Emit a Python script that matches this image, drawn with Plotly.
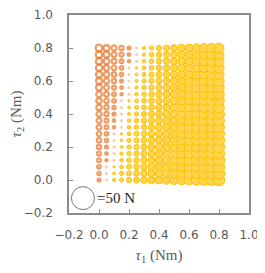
import plotly.graph_objects as go

# grid of joint torques
tau1 = [0.00, 0.05, 0.10, 0.15, 0.20, 0.25, 0.30, 0.35, 0.40, 0.45, 0.50, 0.55, 0.60, 0.65, 0.70, 0.75, 0.80]
tau2 = [0.00, 0.04, 0.08, 0.12, 0.16, 0.20, 0.24, 0.28, 0.32, 0.36, 0.40,
        0.44, 0.48, 0.52, 0.56, 0.60, 0.64, 0.68, 0.72, 0.76, 0.80]

# estimated force (N) for each tau2 row (columns follow tau1); negative = orange rings
force = [
    [-0.8, 0.0, 0.8, 1.7, 2.5, 3.3, 4.2, 5.0, 5.8, 6.7, 7.5, 8.3, 9.2, 10.0, 10.9, 11.7, 12.5],
    [-1.0, -0.2, 0.7, 1.5, 2.3, 3.2, 4.0, 4.8, 5.7, 6.5, 7.3, 8.2, 9.0, 9.9, 10.7, 11.5, 12.4],
    [-1.2, -0.3, 0.5, 1.3, 2.2, 3.0, 3.8, 4.7, 5.5, 6.3, 7.2, 8.0, 8.8, 9.7, 10.5, 11.4, 12.2],
    [-1.3, -0.5, 0.3, 1.2, 2.0, 2.8, 3.7, 4.5, 5.3, 6.2, 7.0, 7.8, 8.7, 9.5, 10.4, 11.2, 12.0],
    [-1.5, -0.7, 0.2, 1.0, 1.8, 2.7, 3.5, 4.3, 5.2, 6.0, 6.8, 7.7, 8.5, 9.3, 10.2, 11.0, 11.9],
    [-1.7, -0.8, 0.0, 0.8, 1.7, 2.5, 3.3, 4.2, 5.0, 5.8, 6.7, 7.5, 8.3, 9.2, 10.0, 10.9, 11.7],
    [-1.8, -1.0, -0.2, 0.7, 1.5, 2.3, 3.2, 4.0, 4.8, 5.7, 6.5, 7.3, 8.2, 9.0, 9.9, 10.7, 11.5],
    [-2.0, -1.2, -0.3, 0.5, 1.3, 2.2, 3.0, 3.8, 4.7, 5.5, 6.3, 7.2, 8.0, 8.8, 9.7, 10.5, 11.4],
    [-2.2, -1.3, -0.5, 0.3, 1.2, 2.0, 2.8, 3.7, 4.5, 5.3, 6.2, 7.0, 7.8, 8.7, 9.5, 10.4, 11.2],
    [-2.3, -1.5, -0.7, 0.2, 1.0, 1.8, 2.7, 3.5, 4.3, 5.2, 6.0, 6.8, 7.7, 8.5, 9.3, 10.2, 11.0],
    [-2.5, -1.7, -0.8, 0.0, 0.8, 1.7, 2.5, 3.3, 4.2, 5.0, 5.8, 6.7, 7.5, 8.3, 9.2, 10.0, 10.9],
    [-2.7, -1.8, -1.0, -0.2, 0.7, 1.5, 2.3, 3.2, 4.0, 4.8, 5.7, 6.5, 7.3, 8.2, 9.0, 9.9, 10.7],
    [-2.8, -2.0, -1.2, -0.3, 0.5, 1.3, 2.2, 3.0, 3.8, 4.7, 5.5, 6.3, 7.2, 8.0, 8.8, 9.7, 10.5],
    [-3.0, -2.2, -1.3, -0.5, 0.3, 1.2, 2.0, 2.8, 3.7, 4.5, 5.3, 6.2, 7.0, 7.8, 8.7, 9.5, 10.4],
    [-3.2, -2.3, -1.5, -0.7, 0.2, 1.0, 1.8, 2.7, 3.5, 4.3, 5.2, 6.0, 6.8, 7.7, 8.5, 9.3, 10.2],
    [-3.3, -2.5, -1.7, -0.8, 0.0, 0.8, 1.7, 2.5, 3.3, 4.2, 5.0, 5.8, 6.7, 7.5, 8.3, 9.2, 10.0],
    [-3.5, -2.7, -1.8, -1.0, -0.2, 0.7, 1.5, 2.3, 3.2, 4.0, 4.8, 5.7, 6.5, 7.3, 8.2, 9.0, 9.9],
    [-3.7, -2.8, -2.0, -1.2, -0.3, 0.5, 1.3, 2.2, 3.0, 3.8, 4.7, 5.5, 6.3, 7.2, 8.0, 8.8, 9.7],
    [-3.8, -3.0, -2.2, -1.3, -0.5, 0.3, 1.2, 2.0, 2.8, 3.7, 4.5, 5.3, 6.2, 7.0, 7.8, 8.7, 9.5],
    [-4.0, -3.2, -2.3, -1.5, -0.7, 0.2, 1.0, 1.8, 2.7, 3.5, 4.3, 5.2, 6.0, 6.8, 7.7, 8.5, 9.3],
    [-4.2, -3.3, -2.5, -1.7, -0.8, 0.0, 0.8, 1.7, 2.5, 3.3, 4.2, 5.0, 5.8, 6.7, 7.5, 8.3, 9.2],
]

ref_force = 50          # reference bubble (N)
ref_label = "=50 N"
ref_pos = (-0.107, -0.11)
ref_label_x = -0.03

x_ticks = [-0.2, 0.0, 0.2, 0.4, 0.6, 0.8, 1.0]
y_ticks = [-0.2, 0.0, 0.2, 0.4, 0.6, 0.8, 1.0]

ZERO_BAND = 0.35
SIZEREF = 2 * ref_force / 23.0 ** 2   # 50 N -> ~23 px diameter

neg_x, neg_y, neg_s = [], [], []
pos_x, pos_y, pos_s = [], [], []
pal_x, pal_y = [], []
for i, t2 in enumerate(tau2):
    for j, t1 in enumerate(tau1):
        f = force[i][j]
        if abs(f) <= ZERO_BAND:
            pal_x.append(t1); pal_y.append(t2)
        elif f < 0:
            neg_x.append(t1); neg_y.append(t2); neg_s.append(-f)
        else:
            pos_x.append(t1); pos_y.append(t2); pos_s.append(f)

fig = go.Figure()
fig.add_trace(go.Scatter(
    x=pos_x, y=pos_y, mode="markers",
    marker=dict(size=pos_s, sizemode="area", sizeref=SIZEREF,
                color="#FFD54F", line=dict(color="#FFC000", width=1), opacity=1),
    hoverinfo="skip", showlegend=False))
fig.add_trace(go.Scatter(
    x=pal_x, y=pal_y, mode="markers",
    marker=dict(size=3, color="#F8CBAD", line=dict(width=0)),
    hoverinfo="skip", showlegend=False))
fig.add_trace(go.Scatter(
    x=neg_x, y=neg_y, mode="markers",
    marker=dict(size=neg_s, sizemode="area", sizeref=SIZEREF,
                color="#FFFFFF", line=dict(color="#EB7222", width=2.2)),
    hoverinfo="skip", showlegend=False))
fig.add_trace(go.Scatter(
    x=[ref_pos[0]], y=[ref_pos[1]], mode="markers",
    marker=dict(size=[ref_force], sizemode="area", sizeref=SIZEREF,
                color="#FFFFFF", line=dict(color="#404040", width=1)),
    hoverinfo="skip", showlegend=False, cliponaxis=False))

fig.add_annotation(x=ref_label_x, y=ref_pos[1], text=ref_label, showarrow=False,
                   xanchor="left", yanchor="middle",
                   font=dict(family="Liberation Serif", size=15, color="#262626"))

axis_common = dict(
    showgrid=False, zeroline=False, showline=True, mirror=True, automargin=False,
    linecolor="#8C8C8C", linewidth=1.5,
    ticks="inside", ticklen=4, tickcolor="#8C8C8C", tickwidth=1,
    tickfont=dict(family="DejaVu Sans", size=12, color="#595959"),
    tickformat=".1f",
)
fig.update_layout(
    width=257, height=265,
    margin=dict(l=61, r=16, t=7, b=60),
    paper_bgcolor="white", plot_bgcolor="white",
    xaxis=dict(range=[-0.2, 1.0], tickvals=x_ticks, ticklabelstandoff=10,
               title=dict(text="<i>τ</i><sub>1</sub> (Nm)", standoff=8,
                          font=dict(family="Liberation Serif", size=15, color="#595959")),
               **axis_common),
    yaxis=dict(range=[-0.2, 1.0], tickvals=y_ticks, ticklabelstandoff=12,
               title=dict(text="<i>τ</i><sub>2</sub> (Nm)", standoff=4,
                          font=dict(family="Liberation Serif", size=15, color="#595959")),
               **axis_common),
)

fig.write_html("out.html")
